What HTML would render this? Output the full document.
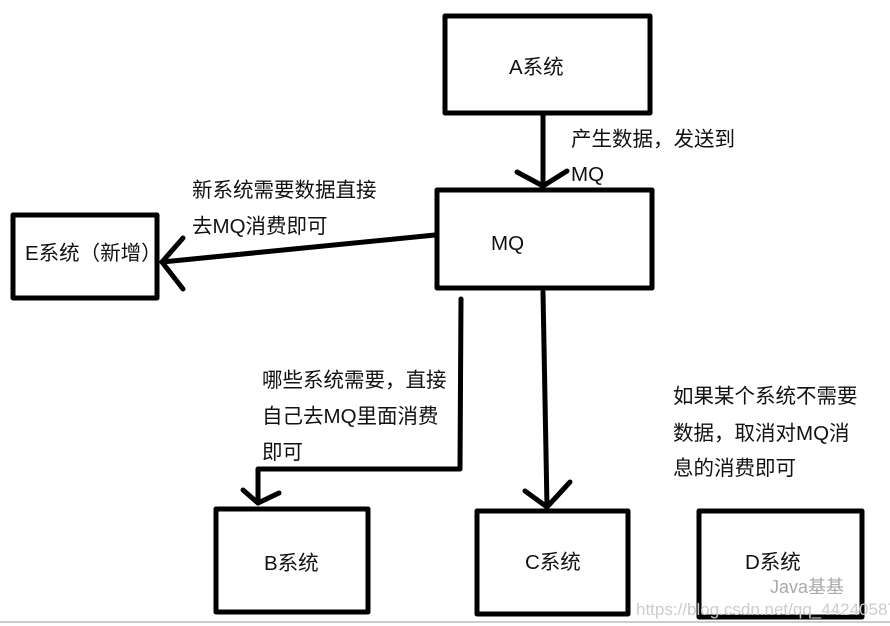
<!DOCTYPE html>
<html><head><meta charset="utf-8"><style>
html,body{margin:0;padding:0;background:#fff;}
svg{display:block;}
text{font-family:"Liberation Sans","Noto Sans CJK SC",sans-serif;font-size:20.5px;fill:#111;}
</style></head><body>
<svg width="890" height="626" viewBox="0 0 890 626" xmlns="http://www.w3.org/2000/svg">
<g fill="none" stroke="#000" stroke-width="5" stroke-linecap="round" stroke-linejoin="round">
<rect x="445" y="16" width="205" height="97"/>
<rect x="437" y="190" width="215" height="98"/>
<rect x="13" y="215" width="144" height="83"/>
<rect x="216" y="509" width="152" height="103"/>
<rect x="477" y="511" width="151" height="103"/>
<rect x="699" y="511" width="163" height="106"/>
<polyline points="543,115 543,186"/>
<polyline points="517,172 543,186 567,171"/>
<polyline points="435,235 162,262"/>
<polyline points="183,238 162,262 183,289"/>
<polyline points="461,299 460,469 258,469 258,503"/>
<polyline points="243,490 258,503 279,493"/>
<polyline points="543,292 547,507"/>
<polyline points="525,491 547,507 570,482"/>
</g>
<line x1="0" y1="622" x2="890" y2="622" stroke="#ccc" stroke-width="2"/>
<text x="509" y="74">A系统</text>
<text x="571" y="146">产生数据，发送到</text>
<text x="571" y="181">MQ</text>
<text x="192" y="197">新系统需要数据直接</text>
<text x="192" y="233">去MQ消费即可</text>
<text x="491" y="250">MQ</text>
<text x="25" y="260">E系统（新增）</text>
<text x="262" y="387">哪些系统需要，直接</text>
<text x="262" y="423">自己去MQ里面消费</text>
<text x="262" y="459">即可</text>
<text x="673" y="403">如果某个系统不需要</text>
<text x="673" y="440">数据，取消对MQ消</text>
<text x="673" y="475">息的消费即可</text>
<text x="264" y="570">B系统</text>
<text x="525" y="569">C系统</text>
<text x="745" y="569">D系统</text>
<text x="770" y="593" style="font-size:18px;fill:#aaa">Java基基</text>
<text x="636" y="615" style="font-size:17px;fill:#ccc">https://blog.csdn.net/qq_44240587</text>
</svg>
</body></html>
